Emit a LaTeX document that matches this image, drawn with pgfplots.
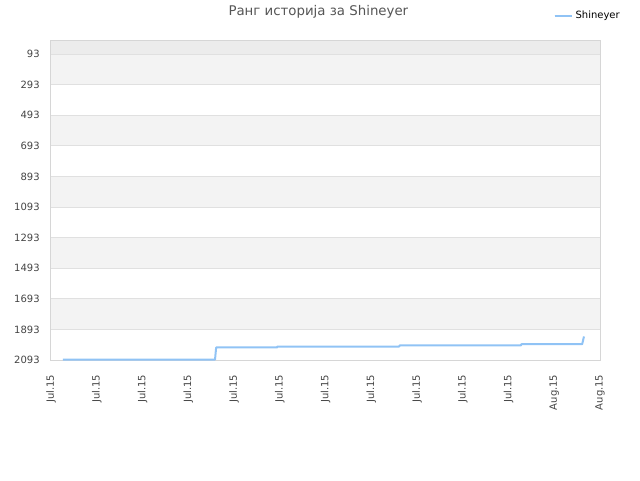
\documentclass[border=0pt]{standalone}
\usepackage{fontspec}
\setmainfont{DejaVu Sans}
\usepackage{pgfplots}
\pgfplotsset{compat=1.18}
\definecolor{rankline}{RGB}{144,195,245}
\definecolor{bandgray}{RGB}{243,243,243}
\definecolor{topgray}{RGB}{236,236,236}
\definecolor{gridgray}{RGB}{224,224,224}
\definecolor{framegray}{RGB}{214,214,214}
\definecolor{ticktext}{RGB}{68,68,68}
\definecolor{titletext}{RGB}{85,85,85}

\begin{document}
\begin{tikzpicture}
\begin{axis}[
    set layers,
    at={(0,0)}, anchor=south west,
    scale only axis,
    width=411.75pt, height=240pt,
    xmin=0, xmax=12,
    ymin=1, ymax=2093,
    y dir=reverse,
    xtick={0,...,12},
    xticklabels={Jul.15,Jul.15,Jul.15,Jul.15,Jul.15,Jul.15,Jul.15,Jul.15,Jul.15,Jul.15,Jul.15,Aug.15,Aug.15},
    ytick={93,293,493,693,893,1093,1293,1493,1693,1893,2093},
    major tick length=0pt,
    ymajorgrids,
    grid style={gridgray, line width=0.75pt},
    axis line style={framegray, line width=0.75pt},
    tick label style={font=\fontsize{7.5}{9}\selectfont, text=ticktext},
    /pgf/number format/assume math mode=true,
    /pgf/number format/set thousands separator={},
    yticklabel style={anchor=east, xshift=-5pt},
    xticklabel style={rotate=90, anchor=east, xshift=-7.5pt},
    every axis title shift=0pt,
    title={Ранг историја за Shineyer},
    title style={at={(0.487,1.0875)}, anchor=center, yshift=0pt, font=\fontsize{10}{12}\selectfont, text=titletext},
    legend style={at={(0.915,1.075)}, anchor=west, draw=none, fill=none, inner sep=0pt,
        font=\fontsize{7.5}{9}\selectfont},
    legend image code/.code={\draw[rankline, line width=1.5pt] (0pt,0pt) -- (8pt,0pt);
        \path (0pt,0pt) -- (13pt,0pt);},
]
\begin{pgfonlayer}{axis background}
\fill[topgray] (axis cs:0,1) rectangle (axis cs:12,93);
\fill[bandgray] (axis cs:0,93) rectangle (axis cs:12,293);
\fill[bandgray] (axis cs:0,493) rectangle (axis cs:12,693);
\fill[bandgray] (axis cs:0,893) rectangle (axis cs:12,1093);
\fill[bandgray] (axis cs:0,1293) rectangle (axis cs:12,1493);
\fill[bandgray] (axis cs:0,1693) rectangle (axis cs:12,1893);
\end{pgfonlayer}
\addplot[rankline, line width=1.5pt, line join=round] coordinates {
    (0.26,2090) (3.585,2090) (3.61,2011) (4.94,2011) (4.95,2005)
    (7.61,2005) (7.62,1998) (10.27,1998) (10.28,1990) (11.61,1990)
    (11.65,1939)
};
\addlegendentry{Shineyer}
\end{axis}
\pgfresetboundingbox
\useasboundingbox (-38.25pt,-90pt) rectangle (441.75pt,270pt);
\end{tikzpicture}
\end{document}
